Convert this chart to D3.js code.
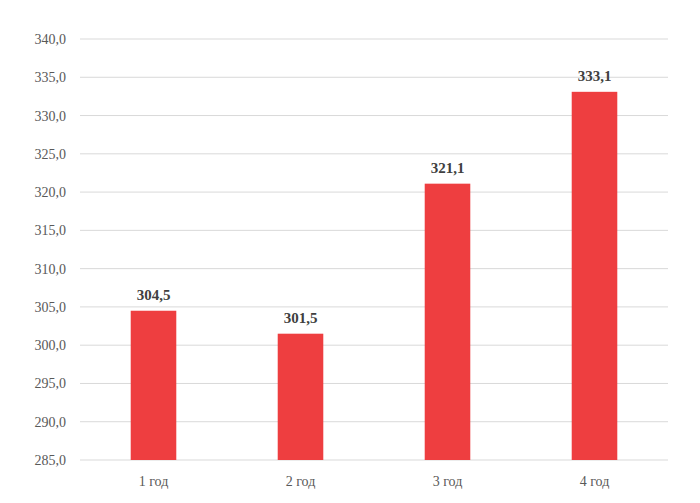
<!DOCTYPE html>
<html><head><meta charset="utf-8">
<script src="https://cdn.jsdelivr.net/npm/d3@7"></script>
<style>body{margin:0;background:#fff} svg text{font-family:"Liberation Serif","Times New Roman",serif !important}</style>
</head><body>
<svg id="c" width="700" height="503"></svg>
<script>
const categories = ["1 год", "2 год", "3 год", "4 год"];
const values = [304.5, 301.5, 321.1, 333.1];
const yTicks = [285, 290, 295, 300, 305, 310, 315, 320, 325, 330, 335, 340];

(function () {
const svg = d3.select("#c");
const mLeft = 80, mRight = 668, mTop = 39, mBottom = 460;
const x = d3.scaleBand().domain(categories).range([mLeft, mRight]).paddingInner(0.69).paddingOuter(0.345);
const y = d3.scaleLinear().domain([285, 340]).range([mBottom, mTop]);
const fmt = v => v.toFixed(1).replace(".", ",");

svg.append("g").selectAll("line").data(yTicks).join("line")
  .attr("x1", mLeft).attr("x2", mRight)
  .attr("y1", d => y(d)).attr("y2", d => y(d))
  .attr("stroke", "#d9d9d9").attr("stroke-width", 1);

const yAxis = d3.axisLeft(y).tickValues(yTicks).tickFormat(fmt).tickSize(0).tickPadding(14);
const ga = svg.append("g").attr("transform", `translate(${mLeft},0)`).call(yAxis);
ga.select(".domain").remove();
ga.selectAll("text").attr("font-size", 14).attr("fill", "#595959");

svg.append("g").selectAll("rect").data(values).join("rect")
  .attr("x", (d, i) => x(categories[i]))
  .attr("width", x.bandwidth())
  .attr("y", d => y(d))
  .attr("height", d => y(285) - y(d))
  .attr("fill", "#ee3e40");

svg.append("g").selectAll("text").data(values).join("text")
  .attr("x", (d, i) => x(categories[i]) + x.bandwidth() / 2)
  .attr("y", d => y(d) - 11)
  .attr("text-anchor", "middle")
  .attr("font-size", 15).attr("font-weight", "bold")
  .attr("fill", "#404040")
  .text(fmt);

const xAxis = d3.axisBottom(x).tickSize(0).tickPadding(16);
const gx = svg.append("g").attr("transform", `translate(0,${mBottom})`).call(xAxis);
gx.select(".domain").remove();
gx.selectAll("text").attr("font-size", 14).attr("fill", "#595959");
})();
</script>
</body></html>
